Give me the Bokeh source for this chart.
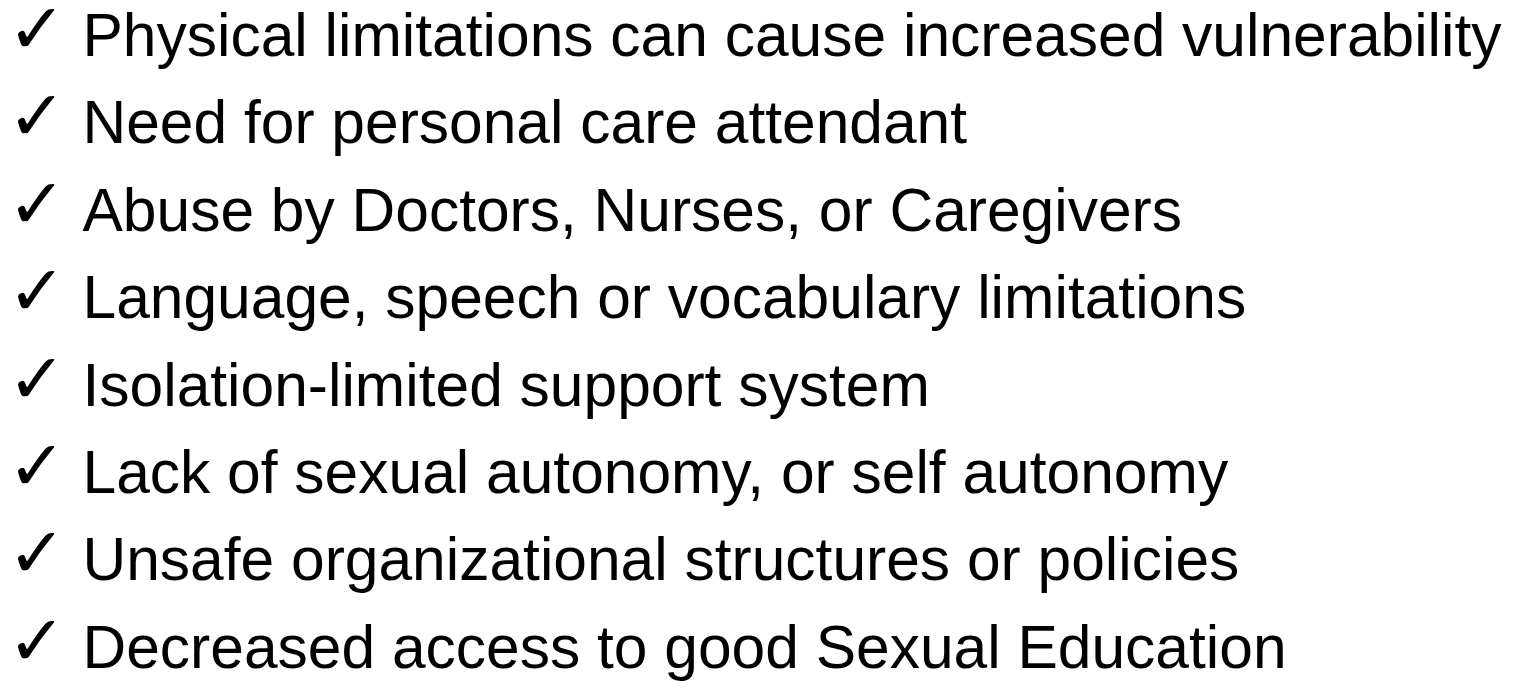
from bokeh.plotting import figure
from bokeh.models import Range1d, ColumnDataSource
from bokeh.core.properties import value
from bokeh.embed import file_html
from bokeh.resources import INLINE

items = [
    "Physical limitations can cause increased vulnerability",
    "Need for personal care attendant",
    "Abuse by Doctors, Nurses, or Caregivers",
    "Language, speech or vocabulary limitations",
    "Isolation-limited support system",
    "Lack of sexual autonomy, or self autonomy",
    "Unsafe organizational structures or policies",
    "Decreased access to good Sexual Education",
]
marks = ["\u2713"] * len(items)
rows = list(range(len(items)))

W, H = 1512, 684
p = figure(width=W, height=H, output_backend="svg", toolbar_location=None,
           x_range=Range1d(0, W), y_range=Range1d(7.431, -0.395),
           x_axis_type=None, y_axis_type=None,
           min_border=0, min_border_left=0, min_border_right=0,
           min_border_top=0, min_border_bottom=0)
p.title.visible = False
p.grid.visible = False
p.outline_line_color = None
p.background_fill_color = "white"
p.border_fill_color = "white"

src = ColumnDataSource(dict(y=rows, txt=items, mk=marks,
                            xt=[82] * len(items), xm=[7] * len(items)))
p.text(x="xm", y="y", text="mk", source=src, text_font=value("DejaVu Sans"),
       text_font_size="70px", text_font_style="bold", text_baseline="middle",
       text_align="left", text_color="black", y_offset=-6)
p.text(x="xt", y="y", text="txt", source=src, text_font=value("Liberation Sans"),
       text_font_size="60.5px", text_baseline="alphabetic", text_align="left",
       text_color="black")

open("out.html", "w").write(file_html(p, INLINE))
